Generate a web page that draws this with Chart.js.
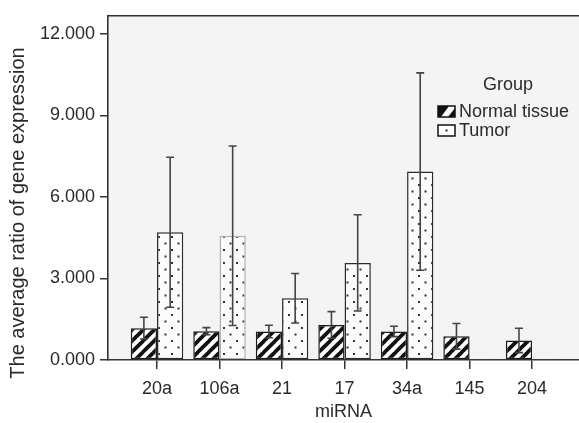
<!DOCTYPE html>
<html>
<head>
<meta charset="utf-8">
<script src="https://cdn.jsdelivr.net/npm/chart.js@4.4.0/dist/chart.umd.min.js"></script>
<style>
  html, body { margin: 0; padding: 0; background: #fff; }
</style>
</head>
<body>
<canvas id="myChart" width="579" height="423"></canvas>
<script>
// data
const categories = ['20a', '106a', '21', '17', '34a', '145', '204'];
const normalMean = [1.17, 1.06, 1.05, 1.29, 1.05, 0.87, 0.72];
const normalErr  = [0.40, 0.13, 0.23, 0.49, 0.19, 0.47, 0.45];
const tumorMean  = [4.70, 4.57, 2.27, 3.57, 6.93, 0.02, 0.02];
const tumorErr   = [2.76, 3.30, 0.91, 1.77, 3.63, 0, 0];
const yTicks = [0, 3, 6, 9, 12];

const FONT = "'Liberation Sans', Arial, sans-serif";
const INK = '#2a2a2a';

// hatch fills
function stripePattern() {
  const n = 11;
  const c = document.createElement('canvas');
  c.width = n; c.height = n;
  const g = c.getContext('2d');
  g.fillStyle = '#fff';
  g.fillRect(0, 0, n, n);
  g.strokeStyle = '#111';
  g.lineWidth = 3.8;
  for (let k = -n; k <= n; k += n) {
    g.beginPath();
    g.moveTo(k - 1, n + 1);
    g.lineTo(k + n + 1, -1);
    g.stroke();
  }
  return g.createPattern(c, 'repeat');
}
function dotPattern() {
  const c = document.createElement('canvas');
  c.width = 13; c.height = 13;
  const g = c.getContext('2d');
  g.fillStyle = '#fbfbfb';
  g.fillRect(0, 0, 13, 13);
  g.fillStyle = '#333';
  g.fillRect(2, 2, 2, 2);
  g.fillRect(8.5, 8.5, 2, 2);
  return g.createPattern(c, 'repeat');
}
const stripes = stripePattern();
const dots = dotPattern();

const plotBg = {
  id: 'plotBg',
  beforeDraw(chart) {
    const a = chart.chartArea, ctx = chart.ctx;
    ctx.save();
    ctx.fillStyle = '#f4f4f4';
    ctx.fillRect(a.left, a.top, a.right - a.left, a.bottom - a.top);
    ctx.restore();
  },
  afterDraw(chart) {
    const a = chart.chartArea, ctx = chart.ctx;
    ctx.save();
    ctx.strokeStyle = '#333';
    ctx.lineWidth = 1.6;
    ctx.beginPath();
    ctx.moveTo(a.left, a.top);
    ctx.lineTo(a.right, a.top);
    ctx.stroke();
    // y title
    ctx.translate(18, 213);
    ctx.rotate(-Math.PI / 2);
    ctx.fillStyle = INK;
    ctx.font = '20px ' + FONT;
    ctx.textAlign = 'center';
    ctx.textBaseline = 'middle';
    ctx.fillText('The average ratio of gene expression', 0, 0);
    ctx.restore();
  }
};

const errorBars = {
  id: 'errorBars',
  afterDatasetsDraw(chart) {
    const ctx = chart.ctx, ys = chart.scales.y;
    [normalErr, tumorErr].forEach((errs, di) => {
      const meta = chart.getDatasetMeta(di);
      meta.data.forEach((bar, i) => {
        if (!errs[i]) return;
        const v = chart.data.datasets[di].data[i].y;
        const t = ys.getPixelForValue(v + errs[i]);
        const b = ys.getPixelForValue(v - errs[i]);
        ctx.save();
        ctx.strokeStyle = '#444';
        ctx.lineWidth = 1.6;
        ctx.beginPath();
        ctx.moveTo(bar.x, t); ctx.lineTo(bar.x, b);
        ctx.moveTo(bar.x - 4, t); ctx.lineTo(bar.x + 4, t);
        ctx.moveTo(bar.x - 4, b); ctx.lineTo(bar.x + 4, b);
        ctx.stroke();
        ctx.restore();
      });
    });
  }
};

const groupLegend = {
  id: 'groupLegend',
  afterDraw(chart) {
    const ctx = chart.ctx;
    ctx.save();
    ctx.fillStyle = INK;
    ctx.font = '18px ' + FONT;
    ctx.textBaseline = 'middle';
    ctx.textAlign = 'center';
    ctx.fillText('Group', 508, 85);
    ctx.textAlign = 'left';
    ctx.fillText('Normal tissue', 459, 112);
    ctx.fillText('Tumor', 459, 131);

    // normal icon
    ctx.fillStyle = '#fff';
    ctx.fillRect(438, 106, 17, 11);
    ctx.fillStyle = '#111';
    ctx.beginPath();
    ctx.moveTo(438, 106); ctx.lineTo(449, 106); ctx.lineTo(441, 117); ctx.lineTo(438, 117);
    ctx.closePath(); ctx.fill();
    ctx.beginPath();
    ctx.moveTo(455, 108); ctx.lineTo(455, 117); ctx.lineTo(448, 117);
    ctx.closePath(); ctx.fill();
    ctx.strokeStyle = '#111';
    ctx.lineWidth = 1.5;
    ctx.strokeRect(438, 106, 17, 11);

    // tumor icon
    ctx.fillStyle = '#fff';
    ctx.fillRect(438, 125, 17, 11);
    ctx.strokeRect(438, 125, 17, 11);
    ctx.fillStyle = '#222';
    ctx.fillRect(445.5, 129.5, 2, 2);
    ctx.restore();
  }
};

const ctx = document.getElementById('myChart').getContext('2d');
new Chart(ctx, {
  type: 'bar',
  data: {
    datasets: [{
      label: 'Normal tissue',
      data: normalMean.map((v, i) => ({ x: i, y: v })),
      backgroundColor: stripes,
      borderColor: '#1a1a1a',
      borderWidth: 1.5,
      borderSkipped: false
    }, {
      label: 'Tumor',
      data: tumorMean.map((v, i) => ({ x: i, y: v })),
      backgroundColor: dots,
      borderColor: (c) => (c.dataIndex === 1 || c.dataIndex > 4) ? '#b0b0b0' : '#2a2a2a',
      borderWidth: 1.5,
      borderSkipped: false
    }]
  },
  options: {
    responsive: false,
    devicePixelRatio: 1,
    animation: false,
    categoryPercentage: 0.84,
    barPercentage: 1.0,
    layout: { padding: { top: 13, right: 0, left: 0, bottom: 0 } },
    plugins: { legend: { display: false }, tooltip: { enabled: false } },
    scales: {
      x: {
        type: 'linear',
        min: -0.784,
        max: 6.75,
        offset: false,
        grid: { offset: false, drawOnChartArea: false, tickLength: 9, color: '#333', lineWidth: 1.5 },
        border: { color: '#333', width: 1.6 },
        afterBuildTicks: (s) => { s.ticks = categories.map((c, i) => ({ value: i })); },
        afterFit: (s) => { s.height = 63; },
        ticks: {
          autoSkip: false, maxRotation: 0, padding: 9,
          color: INK, font: { family: FONT, size: 18 },
          callback: (v) => categories[v] ?? ''
        },
        title: { display: true, text: 'miRNA', color: INK, font: { family: FONT, size: 18 }, padding: 0 }
      },
      y: {
        min: 0,
        max: 12.66,
        grid: { drawOnChartArea: false, tickLength: 8, color: '#333', lineWidth: 1.5 },
        border: { color: '#333', width: 1.6 },
        afterBuildTicks: (s) => { s.ticks = yTicks.map(v => ({ value: v })); },
        afterFit: (s) => { s.width = 108; },
        ticks: {
          padding: 5, color: INK, font: { family: FONT, size: 18 },
          callback: (v) => Number(v).toFixed(3)
        }
      }
    }
  },
  plugins: [plotBg, errorBars, groupLegend]
});
</script>
</body>
</html>
